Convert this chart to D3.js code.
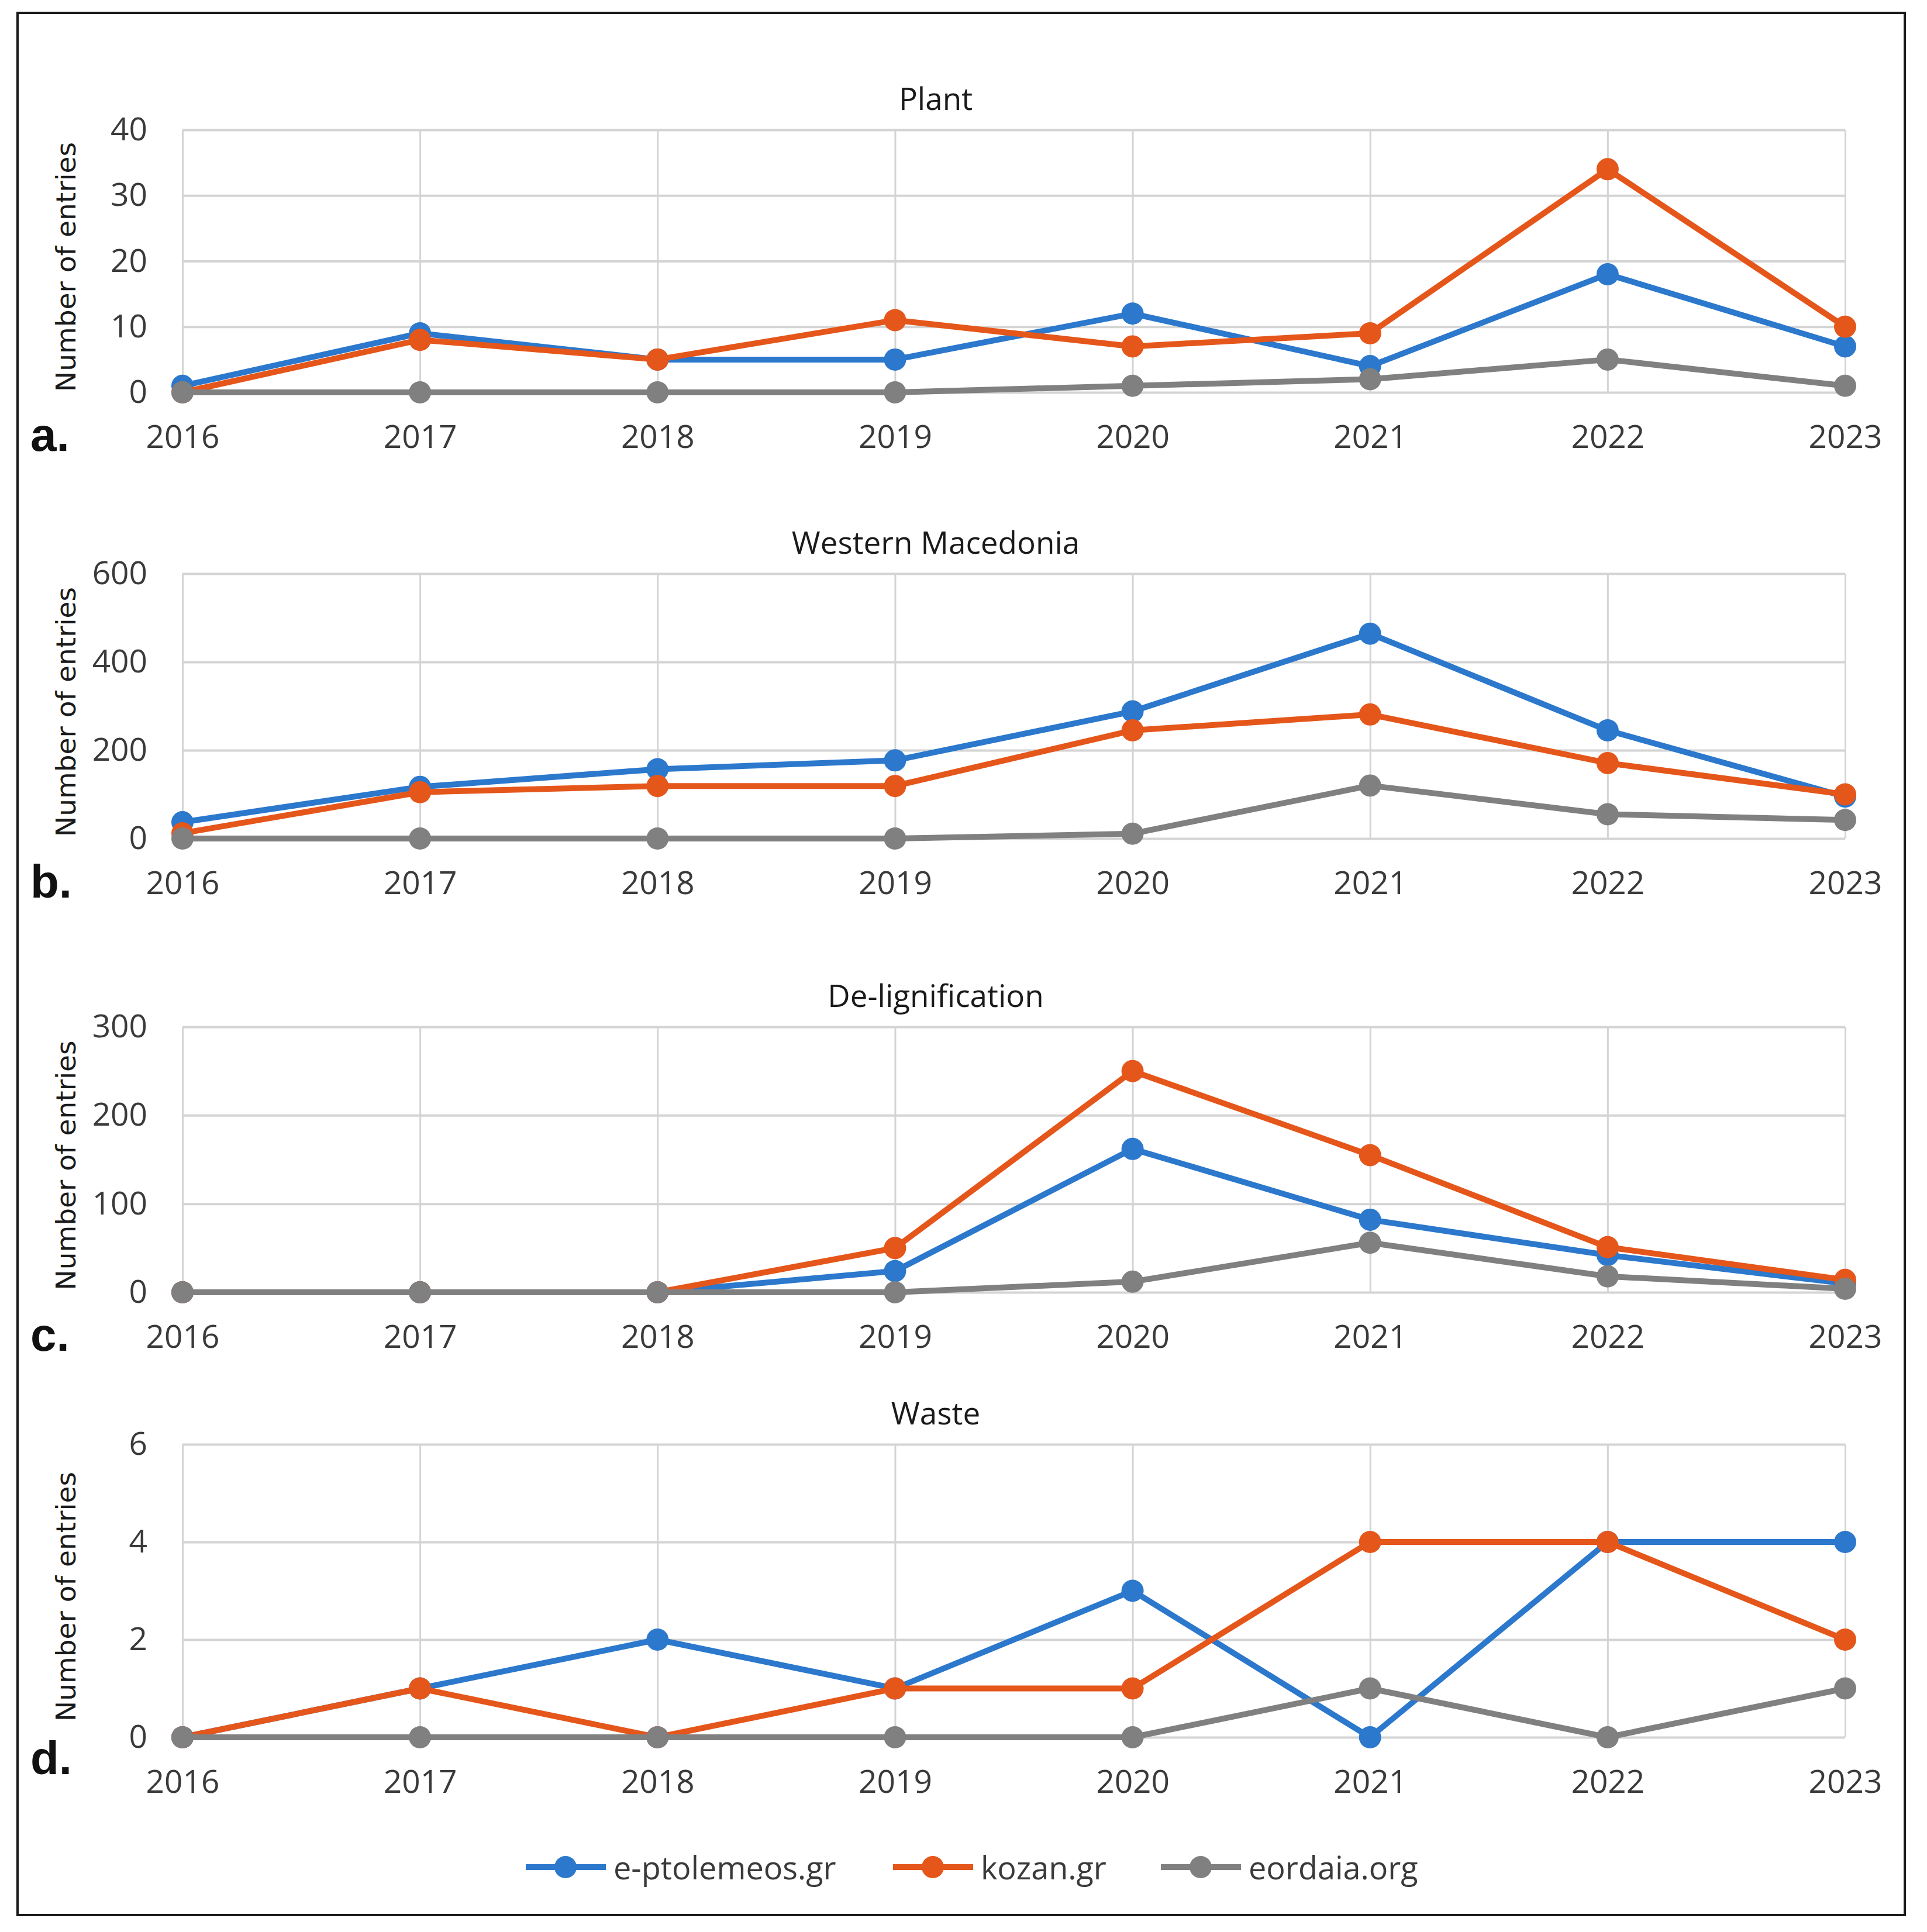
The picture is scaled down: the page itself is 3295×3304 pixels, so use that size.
<!DOCTYPE html>
<html>
<head>
<meta charset="utf-8">
<script src="https://cdn.jsdelivr.net/npm/d3@7"></script>
<style>
  body { margin: 0; background: #fff; }
  .grid line { stroke: #d4d4d4; }
  .grid path { display: none; }
  .ticks path, .ticks line { display: none; }
  .ticks text { font-family: "Open Sans", sans-serif; font-size: 55px; fill: #3a3a3a; }
</style>
</head>
<body>
<svg id="chart"></svg>
<script>
// years on the x axis
var years = [2016, 2017, 2018, 2019, 2020, 2021, 2022, 2023];
var seriesNames = ['e-ptolemeos.gr', 'kozan.gr', 'eordaia.org'];

// a. Plant
var plantEptolemeos = [1, 9, 5, 5, 12, 4, 18, 7];
var plantKozan      = [0, 8, 5, 11, 7, 9, 34, 10];
var plantEordaia    = [0, 0, 0, 0, 1, 2, 5, 1];
var plantTicks      = [0, 10, 20, 30, 40];

// b. Western Macedonia
var macedoniaEptolemeos = [37, 117, 157, 177, 288, 464, 245, 95];
var macedoniaKozan      = [12, 105, 119, 119, 245, 281, 171, 100];
var macedoniaEordaia    = [0, 0, 0, 0, 11, 120, 55, 42];
var macedoniaTicks      = [0, 200, 400, 600];

// c. De-lignification
var delignEptolemeos = [0, 0, 0, 24, 162, 82, 42, 10];
var delignKozan      = [0, 0, 0, 50, 250, 155, 51, 14];
var delignEordaia    = [0, 0, 0, 0, 12, 56, 18, 4];
var delignTicks      = [0, 100, 200, 300];

// d. Waste
var wasteEptolemeos = [0, 1, 2, 1, 3, 0, 4, 4];
var wasteKozan      = [0, 1, 0, 1, 1, 4, 4, 2];
var wasteEordaia    = [0, 0, 0, 0, 0, 1, 0, 1];
var wasteTicks      = [0, 2, 4, 6];

var colors = ['#2b78cc', '#e5561a', '#808080'];

var width = 3295, height = 3304;
var plotL = 312, plotR = 3155;

var panels = [
  {label: 'a.', title: 'Plant', ticks: plantTicks,
   series: [plantEptolemeos, plantKozan, plantEordaia], top: 222, zero: 671, labelY: 771},
  {label: 'b.', title: 'Western Macedonia', ticks: macedoniaTicks,
   series: [macedoniaEptolemeos, macedoniaKozan, macedoniaEordaia], top: 981, zero: 1434, labelY: 1535},
  {label: 'c.', title: 'De-lignification', ticks: delignTicks,
   series: [delignEptolemeos, delignKozan, delignEordaia], top: 1756, zero: 2210, labelY: 2310},
  {label: 'd.', title: 'Waste', ticks: wasteTicks,
   series: [wasteEptolemeos, wasteKozan, wasteEordaia], top: 2470, zero: 2971, labelY: 3034}
];

var svg = d3.select('#chart')
    .attr('width', width)
    .attr('height', height);

svg.append('rect')
    .attr('width', width).attr('height', height)
    .style('fill', '#fff');

// outer frame
svg.append('rect')
    .attr('x', 30).attr('y', 22)
    .attr('width', 3227).attr('height', 3253)
    .style('fill', 'none')
    .style('stroke', '#1a1a1a')
    .style('stroke-width', 4);

var x = d3.scalePoint().domain(years).range([plotL, plotR]);

panels.forEach(function(p){
    var y = d3.scaleLinear()
        .domain([0, d3.max(p.ticks)])
        .range([p.zero, p.top]);
    var g = svg.append('g');

    // horizontal gridlines
    g.append('g')
        .attr('class', 'grid')
        .attr('transform', 'translate(' + plotL + ',0)')
        .call(d3.axisLeft(y).tickValues(p.ticks).tickSize(-(plotR - plotL)).tickFormat(''))
        .selectAll('line').style('stroke-width', 4);

    // vertical gridlines
    g.append('g')
        .attr('class', 'grid')
        .attr('transform', 'translate(0,' + p.top + ')')
        .call(d3.axisBottom(x).tickSize(p.zero - p.top).tickFormat(''))
        .selectAll('line').style('stroke-width', 3);

    // y tick labels
    g.append('g')
        .attr('class', 'ticks')
        .attr('transform', 'translate(' + plotL + ',0)')
        .call(d3.axisLeft(y).tickValues(p.ticks).tickSize(0).tickPadding(60).tickFormat(d3.format('d')));

    // x tick labels
    g.append('g')
        .attr('class', 'ticks')
        .attr('transform', 'translate(0,' + p.zero + ')')
        .call(d3.axisBottom(x).tickSize(0).tickPadding(56).tickFormat(d3.format('d')));

    g.append('text')
        .attr('x', 1600).attr('y', p.top - 55)
        .attr('text-anchor', 'middle')
        .attr('dominant-baseline', 'central')
        .style('font-family', '"Open Sans", sans-serif')
        .style('font-size', '53px')
        .style('fill', '#1a1a1a')
        .text(p.title);

    g.append('text')
        .attr('transform', 'translate(112,' + ((p.top + p.zero) / 2 + 10) + ') rotate(-90)')
        .attr('text-anchor', 'middle')
        .attr('dominant-baseline', 'central')
        .style('font-family', '"DejaVu Sans", sans-serif')
        .style('font-size', '47px')
        .style('fill', '#1a1a1a')
        .text('Number of entries');

    g.append('text')
        .attr('x', 52).attr('y', p.labelY)
        .style('font-family', '"Liberation Sans", Arial, sans-serif')
        .style('font-weight', 'bold')
        .style('font-size', '80px')
        .style('fill', '#111')
        .text(p.label);

    var line = d3.line()
        .x(function(d, i){ return x(years[i]); })
        .y(function(d){ return y(d); });

    p.series.forEach(function(vals, s){
        var sg = g.append('g');
        sg.append('path')
            .datum(vals)
            .attr('d', line)
            .style('fill', 'none')
            .style('stroke', colors[s])
            .style('stroke-width', 10)
            .style('stroke-linejoin', 'round');
        sg.selectAll('circle')
            .data(vals)
            .enter()
            .append('circle')
            .attr('cx', function(d, i){ return x(years[i]); })
            .attr('cy', function(d){ return y(d); })
            .attr('r', 19)
            .style('fill', colors[s]);
    });
});

// legend
var legendX = [899, 1527, 1985];
var legendY = 3193;
seriesNames.forEach(function(name, i){
    var lg = svg.append('g').attr('transform', 'translate(' + legendX[i] + ',' + legendY + ')');
    lg.append('line')
        .attr('x1', 0).attr('x2', 137)
        .style('stroke', colors[i])
        .style('stroke-width', 10);
    lg.append('circle')
        .attr('cx', 68).attr('r', 19)
        .style('fill', colors[i]);
    lg.append('text')
        .attr('x', 150)
        .attr('dominant-baseline', 'central')
        .style('font-family', '"Open Sans", sans-serif')
        .style('font-size', '54px')
        .style('fill', '#3a3a3a')
        .text(name);
});
</script>
</body>
</html>
